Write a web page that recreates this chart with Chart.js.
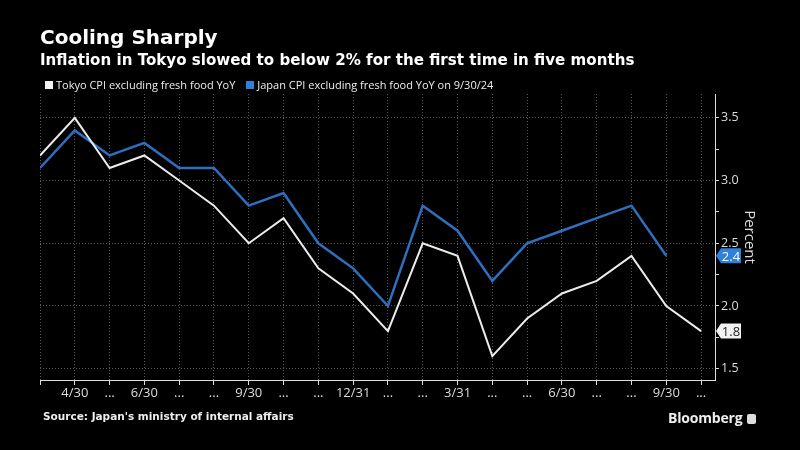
<!DOCTYPE html>
<html>
<head>
<meta charset="utf-8">
<script src="https://cdn.jsdelivr.net/npm/chart.js@4.4.0/dist/chart.umd.min.js"></script>
<style>
  html, body { margin: 0; padding: 0; background: #000; }
  #wrap { position: relative; width: 800px; height: 450px; background: #000; overflow: hidden;
          font-family: "Open Sans", sans-serif; color: #fff; }
  canvas { position: absolute; left: 0; top: 0; }
  .title { position: absolute; left: 40px; top: 25px; font-family: "DejaVu Sans"; font-size: 20px; font-weight: 700; }
  .subtitle { position: absolute; left: 40px; top: 51px; font-family: "DejaVu Sans"; font-size: 15.1px; font-weight: 700; }
  .legend { position: absolute; left: 45px; top: 77px; font-size: 11px; color: #eee; }
  .legend span.box { display: inline-block; width: 8px; height: 8px; margin-right: 3px; }
  .legend span.item { margin-right: 8px; }
  .source { position: absolute; left: 43px; top: 410px; font-family: "DejaVu Sans"; font-size: 10.5px; font-weight: 700; color: #eee; }
  .brand { position: absolute; left: 668px; top: 408px; font-size: 14px; font-weight: 700; color: #eee; letter-spacing: -0.2px; }
  .brand .icon { display: inline-block; width: 9px; height: 10px; background: #ddd; border-radius: 2px; margin-left: 5px; vertical-align: -1px; }
</style>
</head>
<body>
<div id="wrap">
  <canvas id="mycanvas" width="800" height="450"></canvas>
  <div class="title">Cooling Sharply</div>
  <div class="subtitle">Inflation in Tokyo slowed to below 2% for the first time in five months</div>
  <div class="legend">
    <span class="item"><span class="box" style="background:#f2f2f2"></span>Tokyo CPI excluding fresh food YoY</span>
    <span class="item"><span class="box" style="background:#2f7fdc"></span>Japan CPI excluding fresh food YoY on 9/30/24</span>
  </div>
  <div class="source">Source: Japan's ministry of internal affairs</div>
  <div class="brand">Bloomberg<span class="icon"></span></div>
</div>
<script>
// months from Mar 2023 to Oct 2024
var monthLabels = ["", "4/30", "...", "6/30", "...", "...", "9/30", "...", "...", "12/31",
                   "...", "...", "3/31", "...", "...", "6/30", "...", "...", "9/30", "..."];
var tokyoCpi = [3.2, 3.5, 3.1, 3.2, 3.0, 2.8, 2.5, 2.7, 2.3, 2.1,
                1.8, 2.5, 2.4, 1.6, 1.9, 2.1, 2.2, 2.4, 2.0, 1.8];
var japanCpi = [3.1, 3.4, 3.2, 3.3, 3.1, 3.1, 2.8, 2.9, 2.5, 2.3,
                2.0, 2.8, 2.6, 2.2, 2.5, 2.6, 2.7, 2.8, 2.4];
var yTicks = [1.5, 1.75, 2.0, 2.25, 2.5, 2.75, 3.0, 3.25, 3.5];

function toPoints(arr) {
    var pts = [];
    for (var i in arr) {
        pts.push({x: Number(i), y: arr[i]});
    }
    return pts;
}

var lastValueBadges = {
    id: 'lastValueBadges',
    afterDraw: function(chart) {
        var ctx = chart.ctx;
        var yScale = chart.scales.y;
        var xr = chart.chartArea.right;
        chart.data.datasets.forEach(function(ds) {
            var v = ds.data[ds.data.length - 1].y;
            var y = yScale.getPixelForValue(v);
            ctx.save();
            ctx.fillStyle = ds.badgeColor;
            ctx.beginPath();
            ctx.moveTo(xr + 1, y);
            ctx.lineTo(xr + 6, y - 7.5);
            ctx.lineTo(xr + 26, y - 7.5);
            ctx.lineTo(xr + 26, y + 7.5);
            ctx.lineTo(xr + 6, y + 7.5);
            ctx.closePath();
            ctx.fill();
            ctx.fillStyle = ds.badgeText;
            ctx.font = '13px "Open Sans"';
            ctx.textAlign = 'center';
            ctx.textBaseline = 'middle';
            ctx.fillText(v.toFixed(1), xr + 16, y + 1);
            ctx.restore();
        });
    }
};

var ctx = document.getElementById('mycanvas');

var LineGraph = new Chart(ctx, {
    type: 'line',
    data: {
        datasets: [
            {
                label: 'Tokyo CPI excluding fresh food YoY',
                data: toPoints(tokyoCpi),
                borderColor: '#ececec',
                borderWidth: 2,
                pointRadius: 0,
                tension: 0,
                badgeColor: '#f2f2f2',
                badgeText: '#222'
            },
            {
                label: 'Japan CPI excluding fresh food YoY on 9/30/24',
                data: toPoints(japanCpi),
                borderColor: '#2f6fc0',
                borderWidth: 2.5,
                pointRadius: 0,
                tension: 0,
                badgeColor: '#2f7fdc',
                badgeText: '#fff'
            }
        ]
    },
    plugins: [lastValueBadges],
    options: {
        responsive: false,
        animation: false,
        layout: { padding: { left: 40, top: 94, right: 40, bottom: 0 } },
        plugins: {
            legend: { display: false },
            tooltip: { enabled: false }
        },
        scales: {
            x: {
                type: 'linear',
                min: 0,
                max: 19.4,
                afterBuildTicks: function(scale) {
                    scale.ticks = monthLabels.map(function(l, i) { return {value: i}; });
                },
                afterFit: function(scale) { scale.height = 70; },
                ticks: {
                    autoSkip: false,
                    maxRotation: 0,
                    padding: 0,
                    color: '#ddd',
                    font: { family: 'Open Sans', size: 13 },
                    callback: function(value) { return monthLabels[value]; }
                },
                grid: {
                    color: '#5a5a5a',
                    tickColor: '#ddd',
                    tickLength: 5,
                    tickBorderDash: []
                },
                border: { display: true, color: '#ddd', width: 1, dash: [1, 2] }
            },
            y: {
                position: 'right',
                min: 1.41,
                max: 3.69,
                afterBuildTicks: function(scale) {
                    scale.ticks = yTicks.map(function(v) { return {value: v}; });
                },
                afterFit: function(scale) { scale.width = 45; },
                ticks: {
                    padding: 2,
                    color: '#ddd',
                    font: { family: 'Open Sans', size: 12.5 },
                    callback: function(value) {
                        return (Math.round(value * 100) % 50 === 0) ? value.toFixed(1) : '';
                    }
                },
                grid: {
                    color: function(c) {
                        return (c.tick && Math.round(c.tick.value * 100) % 50 === 0) ? '#5a5a5a' : 'rgba(0,0,0,0)';
                    },
                    tickColor: '#ddd',
                    tickLength: 4,
                    tickBorderDash: []
                },
                border: { display: true, color: '#ddd', width: 1, dash: [1, 2] },
                title: {
                    display: true,
                    text: 'Percent',
                    color: '#ddd',
                    padding: { top: 2, bottom: 2 },
                    font: { family: 'Open Sans', size: 15 }
                }
            }
        }
    }
});
</script>
</body>
</html>
